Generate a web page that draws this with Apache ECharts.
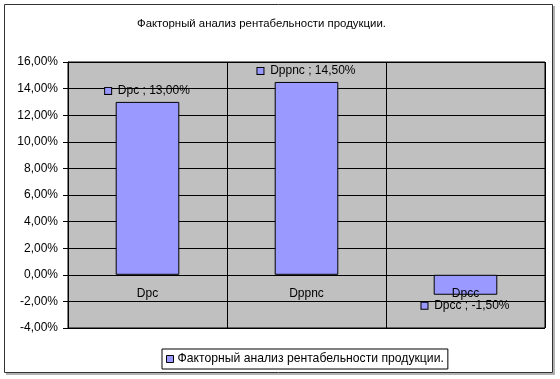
<!DOCTYPE html>
<html><head><meta charset="utf-8">
<script src="https://cdn.jsdelivr.net/npm/echarts@6/dist/echarts.min.js"></script>
<style>html,body{margin:0;padding:0;background:#fff}#c{width:560px;height:379px}</style>
</head><body><div id="c"></div>
<script>
const titleText = 'Факторный анализ рентабельности продукции.';
const categories = ['Dpc', 'Dppnc', 'Dpcc'];
const values = [13.0, 14.5, -1.5];
const yMin = -4, yMax = 16, yStep = 2;

const fmt = v => v.toFixed(2).replace('.', ',') + '%';
const chart = echarts.init(document.getElementById('c'), null, {renderer: 'canvas'});
const plotTop = 62, plotBottom = 51, plotH = 379 - plotTop - plotBottom;
const zeroOffset = -plotH * (0 - yMin) / (yMax - yMin);
chart.setOption({
  backgroundColor: '#fff',
  animation: false,
  textStyle: {fontFamily: 'Liberation Sans, Arial, sans-serif'},
  title: {text: titleText, left: 137, top: 18, padding: 0,
    textStyle: {fontSize: 11.4, fontWeight: 'normal', color: '#000', fontFamily: 'Liberation Sans'}},
  legend: {
    left: 162, top: 349, padding: [4, 4, 4, 4], itemGap: 0,
    backgroundColor: '#fff', borderColor: '#000', borderWidth: 1,
    icon: 'rect', itemWidth: 7, itemHeight: 7, selectedMode: false,
    itemStyle: {borderColor: '#000', borderWidth: 1},
    textStyle: {fontSize: 12.2, color: '#000', padding: [0, 0, 0, -1]},
    data: [titleText]
  },
  grid: {left: 68, right: 15, top: plotTop, bottom: plotBottom, show: true,
    backgroundColor: '#c0c0c0', borderColor: '#000', borderWidth: 1},
  xAxis: [{
    type: 'category', data: categories,
    axisLine: {show: false, onZero: false},
    axisTick: {show: false},
    axisLabel: {show: false},
    splitLine: {show: true, lineStyle: {color: '#000', width: 1}}
  }, {
    type: 'category', data: categories, position: 'bottom', offset: zeroOffset, z: 10,
    axisLine: {show: false, onZero: false},
    axisTick: {show: false},
    axisLabel: {fontSize: 12, color: '#000', margin: 13},
    splitLine: {show: false}
  }],
  yAxis: {
    type: 'value', min: yMin, max: yMax, interval: yStep,
    axisLine: {show: true, lineStyle: {color: '#000'}},
    axisTick: {show: true, length: 5, lineStyle: {color: '#000'}},
    axisLabel: {fontSize: 12, color: '#000', margin: 10, formatter: fmt},
    splitLine: {show: true, lineStyle: {color: '#000', width: 1}}
  },
  series: [{
    name: titleText, type: 'bar', barWidth: '40%', xAxisIndex: 0, z: 3,
    itemStyle: {color: '#9999ff', borderColor: '#000', borderWidth: 1},
    data: values.map(v => ({
      value: v,
      label: {position: v >= 0 ? 'top' : 'bottom'}
    })),
    label: {
      show: true, distance: 5, color: '#000', fontSize: 12,
      formatter: p => '{sq|}  ' + p.name + ' ; ' + fmt(p.value),
      rich: {sq: {width: 6, height: 6, backgroundColor: '#9999ff', borderColor: '#000', borderWidth: 1}}
    }
  }],
  graphic: [
    {type: 'rect', shape: {x: 4.5, y: 4.5, width: 548, height: 368}, style: {fill: 'none', stroke: '#333', lineWidth: 1}, z: 100},
    {type: 'polyline', shape: {points: [[554, 6], [554, 374], [6, 374]]}, style: {fill: 'none', stroke: '#999', lineWidth: 1.5}, z: 100}
  ]
});
</script></body></html>
